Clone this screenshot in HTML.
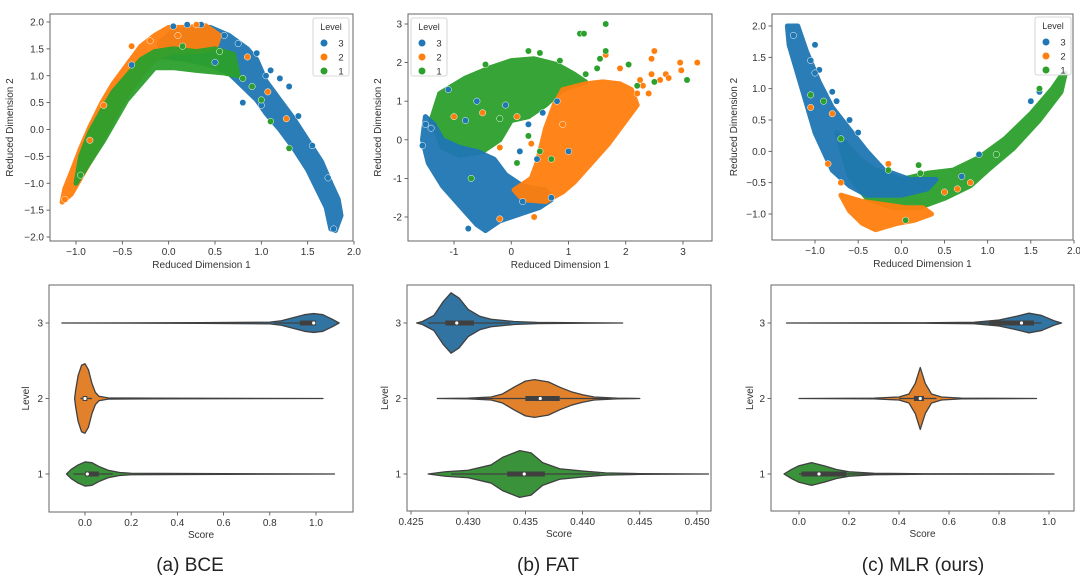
<!DOCTYPE html>
<html><head><meta charset="utf-8"><style>
html,body{margin:0;padding:0;background:#fff;}
svg{display:block;font-family:"Liberation Sans",sans-serif;}
</style></head><body>
<svg id="fig" width="1080" height="585" viewBox="0 0 1080 585"></svg>
<script>
// ===== Scatter data (Reduced Dimension 1, Reduced Dimension 2) =====
const aBlueHull=[[-0.05,1.35],[0.2,1.3],[0.45,1.2],[0.65,1.05],[0.8,0.8],[0.95,0.55],[1.05,0.3],[1.2,0.0],[1.35,-0.35],[1.5,-0.75],[1.6,-1.1],[1.7,-1.45],[1.75,-1.85],[1.8,-1.88],[1.86,-1.6],[1.83,-1.3],[1.75,-1.0],[1.65,-0.6],[1.5,-0.2],[1.35,0.2],[1.2,0.55],[1.05,0.9],[0.95,1.3],[0.85,1.5],[0.65,1.75],[0.45,1.9],[0.25,1.85],[0.05,1.85],[-0.1,1.6]];
const aOrangeHull=[[-1.15,-1.35],[-1.05,-1.2],[-0.9,-0.75],[-0.75,-0.3],[-0.6,0.2],[-0.45,0.65],[-0.3,1.0],[-0.15,1.3],[0.05,1.45],[0.3,1.45],[0.5,1.5],[0.55,1.75],[0.4,1.93],[0.2,1.9],[0.0,1.9],[-0.15,1.75],[-0.3,1.55],[-0.45,1.2],[-0.6,0.85],[-0.72,0.5],[-0.85,0.05],[-0.95,-0.35],[-1.05,-0.8],[-1.12,-1.1]];
const aGreenHull=[[-1.0,-1.0],[-0.85,-0.6],[-0.7,-0.2],[-0.55,0.25],[-0.45,0.55],[-0.3,0.85],[-0.15,1.15],[0.05,1.15],[0.3,1.1],[0.6,1.05],[0.75,1.0],[0.7,1.4],[0.5,1.5],[0.3,1.45],[0.05,1.5],[-0.15,1.45],[-0.3,1.3],[-0.45,1.0],[-0.6,0.7],[-0.72,0.35],[-0.85,-0.05],[-0.95,-0.5]];
const aBluePts=[[0.95,1.42],[1.1,1.1],[1.3,0.8],[1.2,0.95],[0.8,0.5],[1.0,0.45],[0.05,1.92],[0.2,1.95],[0.35,1.95],[0.6,1.75],[0.75,1.6],[1.05,1.0],[1.4,0.25],[1.55,-0.3],[1.72,-0.9],[1.78,-1.85],[-0.4,1.2],[0.5,1.25]];
const aOrangePts=[[-1.12,-1.3],[-0.4,1.55],[-0.2,1.65],[0.3,1.95],[0.85,1.35],[1.07,0.7],[1.27,0.2],[0.1,1.75],[-0.7,0.45],[-0.85,-0.2]];
const aGreenPts=[[0.9,0.8],[1.1,0.15],[1.3,-0.35],[0.55,1.45],[0.8,0.95],[-0.95,-0.85],[0.15,1.55],[1.0,0.55]];

const bBlueHull=[[-1.5,0.6],[-1.55,0.0],[-1.45,-0.6],[-1.2,-1.2],[-0.9,-1.7],[-0.6,-2.2],[-0.45,-2.35],[-0.2,-2.1],[0.2,-1.9],[0.5,-1.75],[0.7,-1.55],[0.6,-1.3],[0.2,-1.2],[-0.1,-0.9],[-0.3,-0.5],[-0.6,-0.3],[-0.9,-0.2],[-1.2,0.0],[-1.35,0.4]];
const bGreenHull=[[-1.4,0.5],[-1.25,1.2],[-0.8,1.6],[-0.4,1.85],[0,2.05],[0.4,2.1],[0.8,1.95],[1.1,1.7],[1.3,1.5],[0.9,1.3],[0.6,0.9],[0.3,0.6],[0.0,0.5],[-0.2,0.0],[-0.5,-0.3],[-0.9,-0.4],[-1.2,-0.2]];
const bOrangeHull=[[0.45,-0.6],[0.6,0.3],[0.75,0.9],[0.9,1.3],[1.3,1.45],[1.6,1.5],[1.9,1.45],[2.1,1.3],[2.2,0.9],[2.0,0.5],[1.7,-0.1],[1.4,-0.6],[1.1,-1.1],[0.9,-1.35],[0.6,-1.6],[0.2,-1.55],[0.05,-1.3],[0.35,-1.0]];
const bBluePts=[[-0.75,-2.3],[-1.55,-0.15],[-1.5,0.4],[0.55,0.7],[0.3,0.4],[0.45,-0.5],[0.15,-0.3],[-0.6,1.0],[-0.1,0.9],[1.0,-0.3],[0.8,1.0],[0.7,-1.5],[0.2,-1.6],[-1.4,0.3],[-1.1,1.3],[-0.8,0.5]];
const bOrangePts=[[2.3,1.4],[2.45,1.7],[2.5,2.3],[2.45,2.1],[2.7,1.7],[2.95,2.0],[3.25,2.0],[2.97,1.8],[2.75,1.6],[2.2,1.2],[1.9,1.85],[1.65,2.2],[2.25,1.55],[0.9,0.4],[-1.0,0.6],[-0.5,0.7],[0.1,0.6],[0.35,-0.1],[-0.2,-0.2],[0.4,-2.0],[-0.2,-2.05],[2.4,1.2],[2.6,1.55]];
const bGreenPts=[[1.65,3.0],[1.2,2.75],[1.27,2.75],[1.65,2.3],[1.55,2.1],[1.5,1.85],[2.05,1.95],[3.07,1.55],[2.5,1.5],[2.2,1.4],[1.3,1.7],[0.85,2.05],[0.3,2.3],[0.5,2.25],[-0.45,1.95],[0.3,0.1],[0.5,-0.3],[0.1,-0.6],[0.7,-0.5],[-0.2,0.55],[-0.7,-1.0]];

const cGreenHull=[[-0.75,0.3],[-0.5,-0.1],[-0.3,-0.3],[0.0,-0.45],[0.3,-0.35],[0.6,-0.3],[0.9,-0.1],[1.2,0.2],[1.5,0.6],[1.75,1.0],[1.85,1.2],[1.9,1.25],[1.85,0.95],[1.6,0.5],[1.3,0.05],[1.0,-0.3],[0.8,-0.55],[0.5,-0.75],[0.2,-0.9],[-0.1,-0.9],[-0.4,-0.75],[-0.6,-0.4]];
const cBlueHull=[[-1.32,2.0],[-1.2,2.0],[-1.1,1.6],[-0.95,1.1],[-0.8,0.7],[-0.6,0.35],[-0.4,0.0],[-0.2,-0.3],[0.1,-0.45],[0.4,-0.45],[0.3,-0.6],[0.0,-0.7],[-0.4,-0.7],[-0.6,-0.55],[-0.8,-0.3],[-1.0,0.3],[-1.15,1.0],[-1.3,1.7]];
const cOrangeHull=[[-0.7,-0.7],[-0.45,-0.8],[-0.2,-0.85],[0.05,-0.9],[0.25,-0.9],[0.35,-1.0],[0.15,-1.1],[-0.05,-1.15],[-0.3,-1.25],[-0.45,-1.15],[-0.6,-0.95]];
const cBluePts=[[-0.8,0.95],[-0.75,0.8],[-0.95,1.3],[-1.0,1.25],[-1.05,1.45],[-0.6,0.5],[-0.5,0.3],[1.5,0.8],[1.6,0.95],[0.9,-0.05],[0.7,-0.4],[-1.25,1.85],[-1.0,1.7]];
const cGreenPts=[[-0.9,0.8],[-1.05,0.9],[-0.15,-0.3],[0.2,-0.22],[0.22,-0.35],[1.6,1.0],[1.1,-0.05],[0.05,-1.1],[-0.7,0.2]];
const cOrangePts=[[-0.85,-0.2],[-0.15,-0.2],[-0.7,-0.5],[-1.05,0.7],[-0.8,0.6],[0.5,-0.65],[0.8,-0.5],[0.65,-0.6]];

// ===== Violin data: [score, half-width as fraction of category spacing] =====
const aV3=[[-0.1,0],[0.5,0.004],[0.8,0.012],[0.85,0.03],[0.9,0.07],[0.95,0.11],[0.99,0.125],[1.03,0.11],[1.07,0.05],[1.1,0]];
const aV2=[[-0.045,0],[-0.04,0.12],[-0.03,0.3],[-0.015,0.44],[0.0,0.46],[0.015,0.38],[0.03,0.2],[0.045,0.08],[0.06,0.03],[0.1,0.008],[0.3,0.004],[1.03,0]];
const aV1=[[-0.08,0],[-0.06,0.06],[-0.03,0.12],[0.0,0.16],[0.03,0.15],[0.06,0.1],[0.1,0.05],[0.15,0.02],[0.2,0.01],[0.6,0.004],[1.08,0]];
const aBox3=[0.82,0.93,0.99,1.0,1.0], aBox2=[-0.02,-0.01,0.0,0.01,0.03], aBox1=[-0.05,0.0,0.01,0.06,0.12];

const bV3=[[0.4255,0],[0.426,0.02],[0.427,0.1],[0.4278,0.28],[0.4285,0.4],[0.4292,0.33],[0.43,0.18],[0.431,0.09],[0.432,0.05],[0.434,0.02],[0.436,0.008],[0.44,0.003],[0.4435,0]];
const bV2=[[0.4273,0],[0.43,0.005],[0.432,0.02],[0.433,0.06],[0.434,0.15],[0.435,0.23],[0.4358,0.25],[0.437,0.22],[0.438,0.15],[0.439,0.09],[0.44,0.05],[0.441,0.02],[0.443,0.005],[0.445,0]];
const bV1=[[0.4265,0],[0.428,0.03],[0.43,0.05],[0.432,0.12],[0.433,0.22],[0.4345,0.31],[0.4355,0.28],[0.4365,0.15],[0.438,0.07],[0.44,0.04],[0.442,0.015],[0.445,0.005],[0.451,0]];
const bBox3=[0.4265,0.428,0.429,0.4305,0.4337], bBox2=[0.4307,0.435,0.4363,0.438,0.4425], bBox1=[0.4285,0.4334,0.4349,0.4367,0.4415];

const cV3=[[-0.05,0],[0.5,0.003],[0.7,0.01],[0.8,0.04],[0.87,0.09],[0.92,0.13],[0.97,0.1],[1.02,0.03],[1.05,0]];
const cV2=[[0.0,0],[0.3,0.005],[0.4,0.02],[0.44,0.06],[0.465,0.2],[0.485,0.41],[0.505,0.2],[0.53,0.06],[0.57,0.02],[0.65,0.005],[0.95,0]];
const cV1=[[-0.06,0],[-0.03,0.06],[0.0,0.11],[0.05,0.15],[0.1,0.11],[0.15,0.06],[0.2,0.03],[0.3,0.01],[0.5,0.003],[1.02,0]];
const cBox3=[0.6,0.76,0.89,0.94,0.97], cBox2=[0.4,0.46,0.485,0.5,0.55], cBox1=[0.0,0.01,0.08,0.19,0.35];

// ===== Tick labels =====
const aScatXTicks=[-1.0,-0.5,0.0,0.5,1.0,1.5,2.0], aScatYTicks=[-2.0,-1.5,-1.0,-0.5,0.0,0.5,1.0,1.5,2.0];
const bScatXTicks=[-1,0,1,2,3], bScatYTicks=[-2,-1,0,1,2,3];
const cScatXTicks=[-1.0,-0.5,0.0,0.5,1.0,1.5,2.0], cScatYTicks=[-1.0,-0.5,0.0,0.5,1.0,1.5,2.0];
const aVioXTicks=[0.0,0.2,0.4,0.6,0.8,1.0];
const bVioXTicks=[0.425,0.430,0.435,0.440,0.445,0.450];
const cVioXTicks=[0.0,0.2,0.4,0.6,0.8,1.0];
const levelTicks=[3,2,1];
const legendLevels=['3','2','1'];

const NS='http://www.w3.org/2000/svg';
const svg=document.getElementById('fig');
const C3='#1f77b4',C2='#ff7f0e',C1='#2ca02c';
const V3='#3274a1',V2='#e1812c',V1='#3a923a';
function el(tag,attrs,parent){const e=document.createElementNS(NS,tag);for(const k in attrs)e.setAttribute(k,attrs[k]);(parent||svg).appendChild(e);return e;}
function lin(d0,p0,d1,p1){return v=>p0+(v-d0)*(p1-p0)/(d1-d0);}
function fmt(v,dec){return (v<0?'\u2212':'')+Math.abs(v).toFixed(dec);}

function axesFrame(g,box,sx,xt,xdec,sy,yt,ydec,xlab,ylab,ylabX,xlabY){
  for(const t of xt){const x=sx(t);
    const tk=el('line',{x1:x,y1:box[3],x2:x,y2:box[3]+3.5,stroke:'#444','stroke-width':0.8},g);
    
    
    const tx=el('text',{x:x,y:box[3]+14,'font-size':10,fill:'#333','text-anchor':'middle'},g);tx.textContent=(typeof xdec==='number')?fmt(t,xdec):String(t);
    
    }
  for(const t of yt){const y=sy(t);
    const tk=el('line',{x1:box[0]-3.5,y1:y,x2:box[0],y2:y,stroke:'#444','stroke-width':0.8},g);
    
    
    const tx=el('text',{x:box[0]-6,y:y+3.5,'font-size':10,fill:'#333','text-anchor':'end'},g);tx.textContent=(ydec===null)?String(t):fmt(t,ydec);
    
    }
  const fr=el('rect',{x:box[0],y:box[1],width:box[2]-box[0],height:box[3]-box[1],fill:'none',stroke:'#666','stroke-width':1},g);
  
  
  const xl=el('text',{x:(box[0]+box[2])/2,y:xlabY,'font-size':10,fill:'#333','text-anchor':'middle'},g);xl.textContent=xlab;
  
  
  const cy=(box[1]+box[3])/2;
  const yl=el('text',{x:ylabX,y:cy,'font-size':10,fill:'#333','text-anchor':'middle',transform:`rotate(-90 ${ylabX} ${cy})`},g);yl.textContent=ylab;
  
  
}

function hull(g,pts,sx,sy,col,name){
  const p=el('polygon',{points:pts.map(d=>sx(d[0])+','+sy(d[1])).join(' '),fill:col,stroke:col,'stroke-width':5,'stroke-linejoin':'round',opacity:0.95},g);
  
  
}
function points(g,pts,sx,sy,col,name){
  for(const d of pts){const c=el('circle',{cx:sx(d[0]),cy:sy(d[1]),r:3.2,fill:col,stroke:'#fff','stroke-width':0.5},g);
    
    }
}
function legend(g,x,y){
  const r=el('rect',{x:x,y:y,width:36,height:58,rx:2,fill:'#fff','fill-opacity':0.85,stroke:'#ccc','stroke-width':0.8},g);
  
  
  const t=el('text',{x:x+18,y:y+12,'font-size':9,fill:'#333','text-anchor':'middle'},g);t.textContent='Level';
  
  
  const cols=[C3,C2,C1];
  legendLevels.forEach((lv,i)=>{const yy=y+25+i*14;
    const c=el('circle',{cx:x+11,cy:yy,r:3.5,fill:cols[i]},g);
    
    
    const tx=el('text',{x:x+28,y:yy+3.5,'font-size':9.5,fill:'#333','text-anchor':'middle'},g);tx.textContent=lv;
    
    });
}
function violin(g,dens,box5,cat,sx,sy,col,name){
  const yc=sy(cat),sp=75.5;
  const top=dens.map(d=>[sx(d[0]),yc-d[1]*sp]);
  const bot=dens.slice().reverse().map(d=>[sx(d[0]),yc+d[1]*sp]);
  const p=el('polygon',{points:top.concat(bot).map(q=>q.join(',')).join(' '),fill:col,stroke:'#404040','stroke-width':1.3,'stroke-linejoin':'round'},g);
  
  
  const w=el('line',{x1:sx(box5[0]),y1:yc,x2:sx(box5[4]),y2:yc,stroke:'#404040','stroke-width':1.3},g);
  
  
  const b=el('rect',{x:sx(box5[1]),y:yc-2.5,width:Math.max(2,sx(box5[3])-sx(box5[1])),height:5,fill:'#404040'},g);
  
  
  const m=el('circle',{cx:sx(box5[2]),cy:yc,r:1.6,fill:'#fff'},g);
  
  
}

function scatterPanel(id,box,sx,sy,hulls,pts,xt,xdec,yt,ydec,legXY,ylabX){
  const g=el('g',{});
  
  
  axesFrame(g,box,sx,xt,xdec,sy,yt,ydec,'Reduced Dimension 1','Reduced Dimension 2',ylabX,box[3]+27);
  const clip=el('clipPath',{id:id+'-clip'},g);el('rect',{x:box[0],y:box[1],width:box[2]-box[0],height:box[3]-box[1]},clip);
  const inner=el('g',{'clip-path':`url(#${id}-clip)`},g);
  for(const h of hulls)hull(inner,h[0],sx,sy,h[1],h[2]);
  for(const p of pts)points(inner,p[0],sx,sy,p[1],p[2]);
  legend(g,legXY[0],legXY[1]);
}
function violinPanel(id,box,sx,xt,xdec,vios,ylabX){
  const g=el('g',{});
  
  
  const sy=lin(3,323,1,474);
  axesFrame(g,box,sx,xt,xdec,sy,levelTicks,null,'Score','Level',ylabX,box[3]+26);
  for(const v of vios)violin(g,v[0],v[1],v[2],sx,sy,v[3],v[4]);
}

// Panel (a)
scatterPanel('scatter-bce',[50,14,353,241],lin(-1,76,2,354),lin(2,22,-2,237),
  [[aBlueHull,C3,'bce-level3-cluster'],[aOrangeHull,C2,'bce-level2-cluster'],[aGreenHull,C1,'bce-level1-cluster']],
  [[aBluePts,C3,'bce-level3-point'],[aOrangePts,C2,'bce-level2-point'],[aGreenPts,C1,'bce-level1-point']],
  aScatXTicks,1,aScatYTicks,1,[313,18],13);
violinPanel('violin-bce',[49,285,353,512],lin(0,85,1,316),aVioXTicks,1,
  [[aV3,aBox3,3,V3,'bce-violin-3'],[aV2,aBox2,2,V2,'bce-violin-2'],[aV1,aBox1,1,V1,'bce-violin-1']],29);
// Panel (b)
scatterPanel('scatter-fat',[408,14,712,241],lin(-1,454,3,683),lin(3,24,-2,217),
  [[bGreenHull,C1,'fat-level1-cluster'],[bBlueHull,C3,'fat-level3-cluster'],[bOrangeHull,C2,'fat-level2-cluster']],
  [[bBluePts,C3,'fat-level3-point'],[bOrangePts,C2,'fat-level2-point'],[bGreenPts,C1,'fat-level1-point']],
  bScatXTicks,null,bScatYTicks,null,[411,18],381);
violinPanel('violin-fat',[407,285,711,511],lin(0.425,411,0.45,697),bVioXTicks,3,
  [[bV3,bBox3,3,V3,'fat-violin-3'],[bV2,bBox2,2,V2,'fat-violin-2'],[bV1,bBox1,1,V1,'fat-violin-1']],388);
// Panel (c)
scatterPanel('scatter-mlr',[772,14,1073,240],lin(-1,815,2,1074),lin(2,26,-1,214),
  [[cGreenHull,C1,'mlr-level1-cluster'],[cBlueHull,C3,'mlr-level3-cluster'],[cOrangeHull,C2,'mlr-level2-cluster']],
  [[cBluePts,C3,'mlr-level3-point'],[cOrangePts,C2,'mlr-level2-point'],[cGreenPts,C1,'mlr-level1-point']],
  cScatXTicks,1,cScatYTicks,1,[1035,17],737);
violinPanel('violin-mlr',[771,285,1074,511],lin(0,799,1,1049),cVioXTicks,1,
  [[cV3,cBox3,3,V3,'mlr-violin-3'],[cV2,cBox2,2,V2,'mlr-violin-2'],[cV1,cBox1,1,V1,'mlr-violin-1']],753);

// Captions
[['(a) BCE',190,'caption-a'],['(b) FAT',548,'caption-b'],['(c) MLR (ours)',923,'caption-c']].forEach(c=>{
  const t=el('text',{x:c[1],y:571,'font-size':19,fill:'#222','text-anchor':'middle'});t.textContent=c[0];
  
  
});
</script>
</body></html>
